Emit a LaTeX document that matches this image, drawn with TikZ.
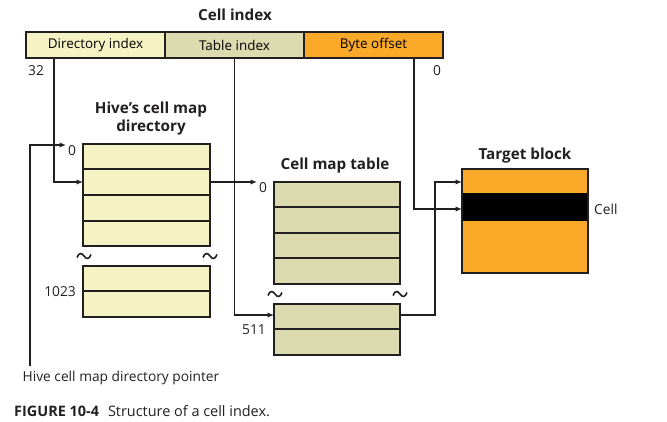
\documentclass[tikz,border=0pt]{standalone}
\usepackage{fontspec}
\setmainfont{Open Sans}
\usetikzlibrary{arrows.meta}
\definecolor{lightyel}{HTML}{F5F3C4}
\definecolor{tanbox}{HTML}{DCDAAF}
\definecolor{orng}{HTML}{FBA928}
\definecolor{ink}{HTML}{231F20}
\begin{document}
\begin{tikzpicture}[x=1bp,y=-1bp,
  box/.style={draw=ink, line width=2bp, inner sep=0pt, outer sep=0pt, anchor=north west},
  rowline/.style={draw=ink, line width=2bp},
  conn/.style={draw=ink, line width=1.6bp},
  arr/.style={conn, -{Latex[length=6.5bp,width=5.5bp]}},
  ttl/.style={font=\bfseries\fontsize{15.3}{18}\selectfont, text=ink, align=center, inner sep=0pt},
  lbl/.style={font=\fontsize{13.8}{16}\selectfont, text=ink, inner sep=0pt},
  tilde/.pic={\draw[line width=1.6bp, draw=ink] (-7,1.5) .. controls (-5,-4) and (-2,-3) .. (0,0) .. controls (2,3) and (5,4) .. (7,-1.5);}
]
\useasboundingbox (0,0) rectangle (667,421);

% cell index bar
\node[ttl] (cititle) at (235,15) {Cell index};
\node[box, fill=lightyel, minimum width=139bp, minimum height=26bp, font=\fontsize{13.5}{16}\selectfont] (di) at (26,32) {Directory index};
\node[box, fill=tanbox, minimum width=139bp, minimum height=26bp, font=\fontsize{13.5}{16}\selectfont] (ti) at (165,32) {Table index};
\node[box, fill=orng, minimum width=139bp, minimum height=26bp, font=\fontsize{13.5}{16}\selectfont] (bo) at (304,32) {Byte offset};
\node[lbl] (l32) at (36,71) {32};
\node[lbl] (l0a) at (437,71) {0};

% directory
\node[ttl] (dirtitle) at (151,119) {Hive’s cell map\\directory};
\node[box, fill=lightyel, minimum width=127bp, minimum height=102bp] (dir) at (83,144) {};
\foreach \yy in {169,195,221} \draw[rowline] (83,\yy) -- (210,\yy);
\node[box, fill=lightyel, minimum width=127bp, minimum height=51bp] (dir2) at (83,266) {};
\draw[rowline] (83,291) -- (210,291);
\node[lbl] (l0b) at (72,151) {0};
\node[lbl, anchor=east] (l1023) at (76,292) {1023};
\pic at (84,256) {tilde};
\pic at (210,256) {tilde};

% table
\node[ttl] (tabtitle) at (335,166) {Cell map table};
\node[box, fill=tanbox, minimum width=126bp, minimum height=102bp] (tab) at (274,182) {};
\foreach \yy in {207,233,258} \draw[rowline] (274,\yy) -- (400,\yy);
\node[box, fill=tanbox, minimum width=126bp, minimum height=51bp] (tab2) at (274,304) {};
\draw[rowline] (274,329) -- (400,329);
\node[lbl] (l0c) at (263,188) {0};
\node[lbl, anchor=east] (l511) at (266,330) {511};
\pic at (275,294) {tilde};
\pic at (400,294) {tilde};

% target block
\node[ttl] (tgttitle) at (525,156) {Target block};
\node[box, fill=orng, minimum width=126bp, minimum height=104bp] (tgt) at (462,169) {};
\fill[black] (462,193) rectangle (588,221);
\draw[ink, line width=2bp] (462,169) rectangle (588,273);
\node[lbl, anchor=west] (cell) at (594,209) {Cell};

% pointer
\coordinate (ptr) at (30,366);
\coordinate (ptrend) at (66,145);
\node[lbl] (ptrlbl) at (121,378) {Hive cell map directory pointer};

% connectors
\draw[arr] ([xshift=28bp]di.south west) |- ([yshift=-38bp]dir.north west);
\coordinate (t0) at (257,182);
\draw[arr] ([yshift=-38bp]dir.north east) -- (t0);
\draw[arr] (ti.south) |- ([yshift=-11bp]tab2.north west);
\draw[arr] ([xshift=110bp]bo.south west) |- ([yshift=-40bp]tgt.north west);
\coordinate (jog) at (435,182);
\draw[arr] ([yshift=-11bp]tab2.north east) -| (jog) -- ([yshift=-13bp]tgt.north west);
\draw[arr] (ptr) |- (ptrend);

% caption
\node[lbl, anchor=west, text=ink, font=\fontsize{14.5}{17}\selectfont] (cap) at (14,411.5) {\textbf{FIGURE 10-4}\hspace{9bp}Structure of a cell index.};
\end{tikzpicture}
\end{document}
